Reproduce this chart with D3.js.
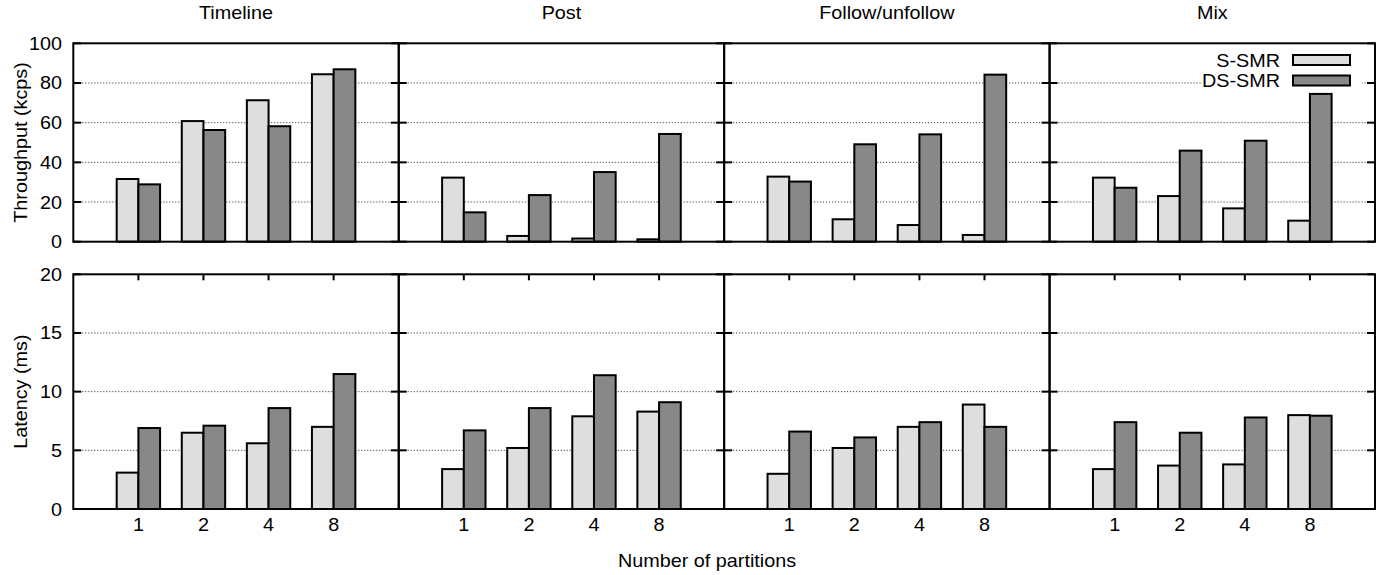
<!DOCTYPE html>
<html>
<head>
<meta charset="utf-8">
<script src="https://cdn.jsdelivr.net/npm/d3@7"></script>
<style>
  body { margin: 0; background: #fff; }
  text { font-family: "Liberation Sans", Arial, Helvetica, sans-serif; fill: #000; }
</style>
</head>
<body>
<script>
let width = 1390;
let height = 575;

let workloads = ["Timeline", "Post", "Follow/unfollow", "Mix"];
let partitions = ["1", "2", "4", "8"];
let seriesNames = ["S-SMR", "DS-SMR"];

// throughput (kcps), one row per workload
let throughputS = [
    [31.6, 60.8, 71.3, 84.4],
    [32.3, 2.9, 1.6, 1.2],
    [32.8, 11.3, 8.4, 3.4],
    [32.3, 23.0, 16.8, 10.6],
];
let throughputDS = [
    [28.9, 56.3, 58.2, 86.9],
    [14.8, 23.5, 35.1, 54.3],
    [30.3, 49.1, 54.1, 84.2],
    [27.2, 45.9, 50.9, 74.5],
];

// latency (ms)
let latencyS = [
    [3.1, 6.5, 5.6, 7.0],
    [3.4, 5.2, 7.9, 8.3],
    [3.0, 5.2, 7.0, 8.9],
    [3.4, 3.7, 3.8, 8.0],
];
let latencyDS = [
    [6.9, 7.1, 8.6, 11.5],
    [6.7, 8.6, 11.4, 9.1],
    [6.6, 6.1, 7.4, 7.0],
    [7.4, 6.5, 7.8, 7.95],
];

let throughputTicks = [0, 20, 40, 60, 80, 100];
let latencyTicks = [0, 5, 10, 15, 20];

let colors = { "S-SMR": "#dedede", "DS-SMR": "#888888" };
let fontSize = 18;
let stretch = 1.1;

let svg = d3.select("body").append("svg")
    .attr("width", width)
    .attr("height", height);

let left = 73.3, right = 1375;
let panelW = (right - left) / workloads.length;

let rows = [
    { top: 43.3, bottom: 241.7, max: 100, ticks: throughputTicks, grid: [20, 40, 60, 80],
      s: throughputS, ds: throughputDS, label: "Throughput (kcps)", xticks: false },
    { top: 274.3, bottom: 509, max: 20, ticks: latencyTicks, grid: [5, 10, 15],
      s: latencyS, ds: latencyDS, label: "Latency (ms)", xticks: true },
];

function label(g, x, y, str, anchor, rot) {
    return g.append("text")
        .attr("transform", "translate(" + x + "," + y + ")" + (rot ? " rotate(-90)" : "") + " scale(" + stretch + ",1)")
        .attr("text-anchor", anchor)
        .style("font-size", fontSize + "px")
        .text(str);
}

rows.forEach((row, ri) => {
    let y = d3.scaleLinear().domain([0, row.max]).range([row.bottom, row.top]);

    workloads.forEach((w, wi) => {
        let x0 = left + wi * panelW;
        let x = d3.scaleLinear().domain([0, 5]).range([x0, x0 + panelW]);
        let g = svg.append("g");

        // grid
        g.selectAll("line.grid")
            .data(row.grid)
            .enter()
            .append("line")
            .attr("x1", x0).attr("x2", x0 + panelW)
            .attr("y1", d => y(d)).attr("y2", d => y(d))
            .attr("stroke", "#222")
            .attr("stroke-width", 1)
            .attr("stroke-dasharray", "1,2");

        // bars
        let bars = [];
        partitions.forEach((p, pi) => {
            bars.push({ name: "S-SMR", pos: pi + 1 - 1 / 3, v: row.s[wi][pi] });
            bars.push({ name: "DS-SMR", pos: pi + 1, v: row.ds[wi][pi] });
        });
        g.selectAll("rect.bar")
            .data(bars)
            .enter()
            .append("rect")
            .attr("x", d => x(d.pos))
            .attr("width", x(1 / 3) - x(0))
            .attr("y", d => y(d.v))
            .attr("height", d => y(0) - y(d.v))
            .attr("fill", d => colors[d.name])
            .attr("stroke", "#000")
            .attr("stroke-width", 2);

        // y ticks, inward on both sides
        row.ticks.forEach(t => {
            g.append("line").attr("x1", x0).attr("x2", x0 + 8)
                .attr("y1", y(t)).attr("y2", y(t)).attr("stroke", "#000").attr("stroke-width", 2);
            g.append("line").attr("x1", x0 + panelW - 8).attr("x2", x0 + panelW)
                .attr("y1", y(t)).attr("y2", y(t)).attr("stroke", "#000").attr("stroke-width", 2);
        });

        // mirrored x ticks at the top of the latency panels
        if (row.xticks) {
            partitions.forEach((p, pi) => {
                g.append("line").attr("x1", x(pi + 1)).attr("x2", x(pi + 1))
                    .attr("y1", row.top).attr("y2", row.top + 6)
                    .attr("stroke", "#000").attr("stroke-width", 2);
                label(g, x(pi + 1), 530.5, p, "middle");
            });
        }

        // frame
        g.append("rect")
            .attr("x", x0).attr("y", row.top)
            .attr("width", panelW).attr("height", row.bottom - row.top)
            .attr("fill", "none")
            .attr("stroke", "#000")
            .attr("stroke-width", 2);

        if (ri === 0) {
            label(svg, x0 + panelW / 2, 19, w, "middle");
        }
    });

    // y tick labels on the first panel only
    row.ticks.forEach(t => {
        label(svg, 62, y(t) + 6.5, String(t), "end");
    });
    label(svg, 27, (row.top + row.bottom) / 2, row.label, "middle", true);
});

// legend in the top-right panel
let legend = svg.append("g");
legend.append("rect")
    .attr("x", 1202).attr("y", 47)
    .attr("width", 160).attr("height", 43)
    .attr("fill", "#fff");
seriesNames.forEach((s, i) => {
    let yy = 60 + i * 20.5;
    label(legend, 1280, yy + 6.5, s, "end");
    legend.append("rect")
        .attr("x", 1293).attr("y", yy - 5)
        .attr("width", 57).attr("height", 10)
        .attr("fill", colors[s])
        .attr("stroke", "#000")
        .attr("stroke-width", 2);
});

label(svg, 707, 566.5, "Number of partitions", "middle");
</script>
</body>
</html>
